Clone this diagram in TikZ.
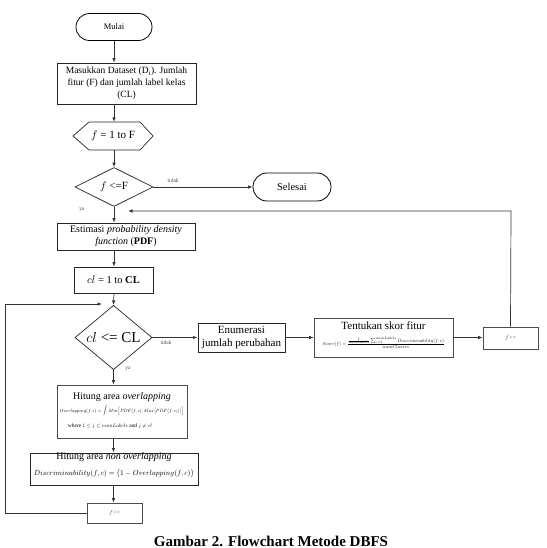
\documentclass[tikz,border=0pt]{standalone}
\usepackage{fontspec}
\setmainfont{Liberation Serif}
\usepackage{amsmath}
\usepackage{graphicx}
\usetikzlibrary{shapes.geometric,shapes.misc,arrows.meta}
\begin{document}
\begin{tikzpicture}[x=1pt,y=-1pt,
  every node/.style={font=\fontsize{9.5}{12}\selectfont, align=center, inner sep=1pt},
  term/.style={rounded rectangle, draw=black, line width=0.8pt},
  procbox/.style={rectangle, draw=black!85, line width=0.8pt},
  decbox/.style={diamond, draw=black!85, line width=0.7pt, inner sep=0pt},
  conn/.style={draw=black!80, line width=0.7pt, -{Latex[length=4.5pt,width=3.5pt]}},
  lbl/.style={font=\fontsize{5.5}{6}\selectfont, text=black!70},
  title/.style={font=\fontsize{10}{11}\selectfont}
]
\useasboundingbox (0,0) rectangle (546,548);
\fill[white] (0,0) rectangle (546,548);

% nodes
\node[term, minimum width=78pt, minimum height=27pt, font=\fontsize{8.5}{10}\selectfont] (mulai) at (114,27) {Mulai};
\node[procbox, minimum width=139pt, minimum height=41pt] (input) at (126.5,83.5)
  {Masukkan Dataset (D\textsubscript{i}). Jumlah\\fitur (F) dan jumlah label kelas\\(CL)};
\node[minimum width=80pt, minimum height=28pt, draw=none, font=\fontsize{11}{12}\selectfont] (hex) at (113,136) {$f$ = 1 to F};
\draw[black!85, line width=0.7pt] (73,136) -- (89,122) -- (140,122) -- (153,136) -- (140,150) -- (89,150) -- cycle;
\node[decbox, minimum width=78pt, minimum height=39pt, font=\fontsize{11}{12}\selectfont] (dec1) at (114,187) {$f$ <=F};
\node[term, minimum width=80pt, minimum height=28pt, font=\fontsize{10.5}{12}\selectfont] (selesai) at (292,187) {Selesai};
\node[procbox, minimum width=138pt, minimum height=27pt, font=\fontsize{10}{12}\selectfont] (pdf) at (126,236.5)
  {Estimasi \textit{probability density}\\\textit{function} (\textbf{PDF})};
\node[procbox, minimum width=79pt, minimum height=26pt, font=\fontsize{10.5}{12}\selectfont] (cl1) at (113.5,280) {$cl$ = 1 to \textbf{CL}};
\node[decbox, minimum width=77pt, minimum height=49pt, font=\fontsize{15}{16}\selectfont] (dec2) at (113.5,337.5) {$cl$ <= CL};
\node[procbox, line width=1pt, minimum width=87pt, minimum height=29pt, font=\fontsize{11}{12.5}\selectfont] (enum) at (241.5,337.5)
  {Enumerasi\\jumlah perubahan};
\node[procbox, draw=black!70, minimum width=139pt, minimum height=39pt] (skor) at (383.5,337.5) {};
\node[font=\fontsize{11}{12}\selectfont] (skort) at (383.5,326) {Tentukan skor fitur};
\node (skorf) at (383.5,343) {\resizebox{122pt}{!}{$\displaystyle Score(f)=\frac{\frac{1}{numLabels}\sum_{c=1}^{numLabels}Discriminability(f,c)}{numClasses}$}};
\node[procbox, draw=black!70, minimum width=55pt, minimum height=22pt, font=\fontsize{6}{7}\selectfont, text=black!60] (fpp1) at (510.5,338) {$f$++};
\node[procbox, draw=black!70, minimum width=130pt, minimum height=53pt] (over) at (122,411.5) {};
\node[title] (overt) at (122,397) {Hitung area \textit{overlapping}};
\node (overf) at (122,411) {\resizebox{124pt}{!}{$\displaystyle Overlapping(f,c)=\int Min\Big[PDF(f,c),Max\big[PDF(f,c_j)\big]\Big]$}};
\node (overw) at (110,426) {\resizebox{84pt}{!}{where $1\le j\le numLabels$ and $j\neq cl$}};
\node[procbox, line width=1pt, minimum width=168pt, minimum height=32pt] (nonover) at (114,469) {};
\node[title] (nonovert) at (114,457.5) {Hitung area \textit{non overlapping}};
\node (nonoverf) at (114,474) {\resizebox{160pt}{!}{$Discriminability(f,c)=\big(1-Overlapping(f,c)\big)$}};
\node[procbox, draw=black!70, minimum width=55pt, minimum height=20pt, font=\fontsize{6}{7}\selectfont, text=black!60] (fpp2) at (114.5,513) {$f$++};

\node[font=\bfseries\fontsize{15}{17}\selectfont] (caption) at (271,541) {Gambar 2. Flowchart Metode DBFS};

% coordinates
\coordinate (ret1) at (128,211);
\coordinate (ret1c) at (511,211);
\coordinate (ret2) at (102,304);
\coordinate (ret2a) at (5,513);
\coordinate (ret2b) at (5,304);

% connectors
\draw[conn] (mulai.south) -- (mulai.south |- input.north);
\draw[conn] (mulai.south |- input.south) -- (mulai.south |- hex.north);
\draw[conn] (mulai.south |- hex.south) -- (dec1.north);
\draw[conn] (dec1.east) -- node[lbl, above=3pt, pos=0.2] {tidak} (selesai.west);
\draw[conn] (dec1.south) -- (dec1.south |- pdf.north);
\node[lbl] (ya1) at (82,210) {ya};
\draw[conn] (fpp1.north) -- (ret1c) -- (ret1);
\draw[conn] (dec1.south |- pdf.south) -- (dec1.south |- cl1.north);
\draw[conn] (dec1.south |- cl1.south) -- (dec2.north);
\draw[conn] (dec2.east) -- (enum.west);
\node[lbl] (tidak2) at (166,343) {tidak};
\draw[conn] (enum) -- (skor);
\draw[conn] (skor) -- (fpp1.west |- skor.east);
\draw[conn] (dec2.south) -- (dec2.south |- over.north);
\node[lbl] (ya2) at (128,369) {ya};
\draw[conn] (dec2.south |- over.south) -- (dec2.south |- nonover.north);
\draw[conn] (dec2.south |- nonover.south) -- (dec2.south |- fpp2.north);
\draw[conn] (fpp2.west) -- (ret2a) -- (ret2b) -- (ret2);
\end{tikzpicture}
\end{document}
